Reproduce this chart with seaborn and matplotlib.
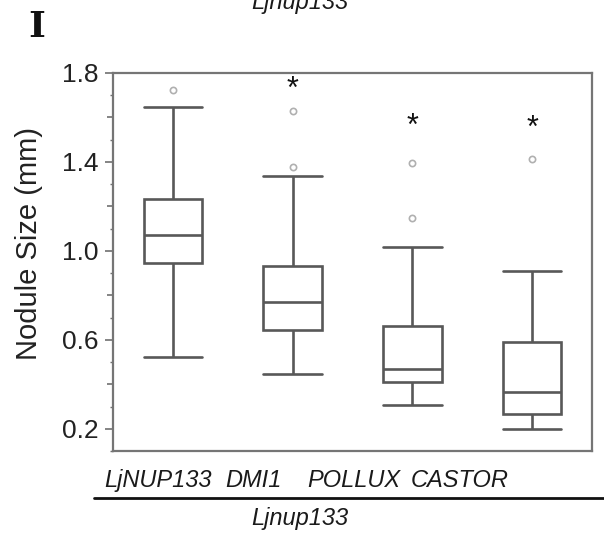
import numpy as np
import pandas as pd
import matplotlib
matplotlib.use("Agg")
import matplotlib.pyplot as plt
import matplotlib.transforms as mtransforms
import seaborn as sns
from matplotlib.ticker import MultipleLocator

# ---- data ----
groups = ["LjNUP133", "DMI1", "POLLUX", "CASTOR"]
whisker_low = [0.522, 0.447, 0.309, 0.199]
q1 = [0.945, 0.644, 0.410, 0.267]
median = [1.073, 0.772, 0.471, 0.365]
q3 = [1.232, 0.930, 0.660, 0.588]
whisker_high = [1.649, 1.336, 1.017, 0.910]
outliers = [[1.722], [1.379, 1.629], [1.150, 1.396], [1.415]]
star_groups = ["DMI1", "POLLUX", "CASTOR"]
star_y = [1.746, 1.579, 1.572]
ytick_labels = ["0.2", "0.6", "1.0", "1.4", "1.8"]
group_title = "Ljnup133"

# build samples whose quartiles reproduce the read summary
rows = []
for g, lo, a, md, b, hi, outs in zip(groups, whisker_low, q1, median, q3, whisker_high, outliers):
    m = len(outs) + 1
    vals = [lo] + [a] * m + [md] * m + [b] * m + [hi] + list(outs)
    rows += [(g, v) for v in vals]
df = pd.DataFrame(rows, columns=["group", "size"])

sns.set_theme(style="white")
plt.rcParams["font.family"] = ["Liberation Sans", "DejaVu Sans"]

fig = plt.figure(figsize=(6.04, 5.35), dpi=100)
ax = fig.add_axes([113 / 604, 1 - 451 / 535, 479 / 604, 378 / 535])

line_c = "#585858"
sns.boxplot(
    data=df, x="group", y="size", order=groups, ax=ax,
    color="white", linecolor=line_c, linewidth=1.9, width=0.49, whis=1.5,
    flierprops=dict(marker="o", markersize=4.5, markerfacecolor="white",
                    markeredgecolor="#b0b0b0", markeredgewidth=1.2),
    capwidths=0.49,
)

star_off = mtransforms.offset_copy(ax.transData, fig=fig, x=0, y=-5, units="dots")
for g, yv in zip(star_groups, star_y):
    ax.text(groups.index(g), yv, "*", ha="center", va="center", fontsize=22,
            color="#111111", transform=star_off)

ax.set_xlim(-0.5, 3.5)
ax.set_ylim(0.1, 1.8)
major_pos = np.round(np.arange(0.2, 1.81, 0.2), 1)
ax.set_yticks(major_pos)
ax.set_yticklabels([f"{t:.1f}" if f"{t:.1f}" in ytick_labels else "" for t in major_pos],
                   fontsize=19, color="#222222")
ax.yaxis.set_minor_locator(MultipleLocator(0.1))
ax.tick_params(axis="y", which="major", left=True, length=4.5, width=1.2, color="#707070", pad=6)
ax.tick_params(axis="y", which="minor", left=True, length=2.5, width=1.0, color="#707070")
for t, lab in zip(ax.yaxis.get_major_ticks(), major_pos):
    if f"{lab:.1f}" in ytick_labels:
        t.tick1line.set_markersize(6)

label_shift = [-0.125, -0.325, -0.492, -0.608]
ax.set_xticks([i + s for i, s in enumerate(label_shift)])
ax.set_xticklabels(groups, fontsize=17, style="italic", color="#1a1a1a")
ax.tick_params(axis="x", length=0, pad=13)
ax.set_xlabel("")
ax.set_ylabel("Nodule Size (mm)", fontsize=21, color="#222222")
ax.yaxis.set_label_coords(-0.146, 0.548)

for s in ax.spines.values():
    s.set_color("#757575")
    s.set_linewidth(1.6)

# group bracket line and titles
fig.add_artist(plt.Line2D([94 / 604, 1.0], [1 - 498 / 535, 1 - 498 / 535],
                          color="#111111", lw=2.0, transform=fig.transFigure))
fig.text(300 / 604, 1 - 518 / 535, group_title, ha="center", va="center",
         fontsize=17, style="italic", color="#1a1a1a")
fig.text(300 / 604, 1 - 9 / 535, group_title, ha="center", va="baseline",
         fontsize=17, style="italic", color="#1a1a1a")
fig.text(37 / 604, 1 - 27 / 535, "I", ha="center", va="center", fontsize=26,
         fontweight="bold", family="DejaVu Serif", color="#111111")

fig.savefig("out.png", dpi=100)
